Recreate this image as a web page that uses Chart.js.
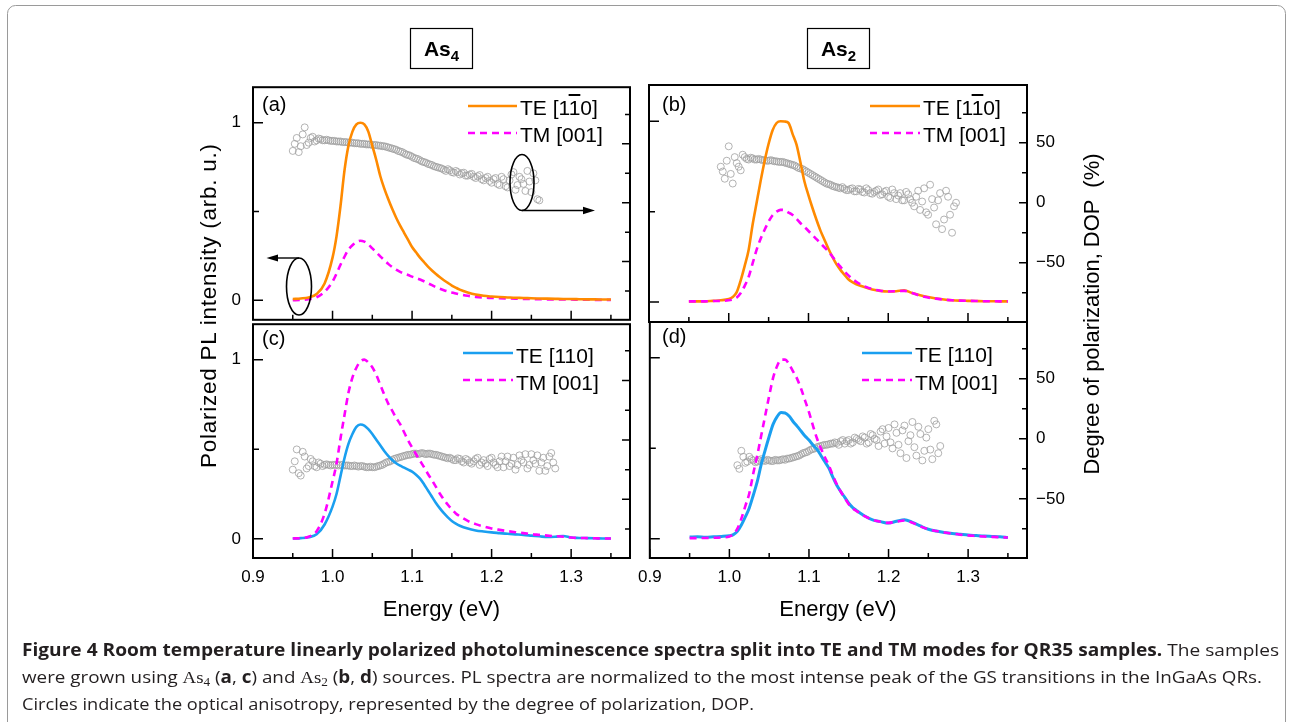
<!DOCTYPE html>
<html>
<head>
<meta charset="utf-8">
<script src="https://cdn.jsdelivr.net/npm/chart.js@4.4.1/dist/chart.umd.min.js"></script>
<style>
  body { margin: 0; background: #fff; width: 1292px; height: 722px; overflow: hidden; position: relative; font-family: "Liberation Sans", Arial, sans-serif; }
  canvas { position: absolute; }
  #overlay { position: absolute; left: 0; top: 0; }
  .leg { position: absolute; font-size: 21px; line-height: 21px; white-space: nowrap; color: #000; }
  .ov { text-decoration: overline; }
</style>
</head>
<body>
<canvas id="pa" width="457" height="277" style="left:193px;top:65px"></canvas>
<canvas id="pb" width="458" height="277" style="left:629px;top:65px"></canvas>
<canvas id="pc" width="457" height="320" style="left:193px;top:302px"></canvas>
<canvas id="pd" width="458" height="320" style="left:629px;top:302px"></canvas>

<svg id="overlay" width="1292" height="722" font-family="Liberation Sans, Arial, sans-serif">
  <rect x="7.5" y="5.5" width="1278" height="760" rx="8" fill="none" stroke="#9a9a9a" stroke-width="1"/>

  <!-- source boxes -->
  <rect x="410.5" y="28.5" width="62" height="40" fill="none" stroke="#000" stroke-width="1.2"/>
  <text x="441.5" y="56" text-anchor="middle" font-weight="bold" font-size="21">As<tspan font-size="15" dy="5">4</tspan></text>
  <rect x="807.5" y="28.5" width="62" height="40" fill="none" stroke="#000" stroke-width="1.2"/>
  <text x="838.5" y="56" text-anchor="middle" font-weight="bold" font-size="21">As<tspan font-size="15" dy="5">2</tspan></text>

  <!-- panel letters -->
  <text x="262" y="110.5" font-size="20">(a)</text>
  <text x="662" y="110.5" font-size="20">(b)</text>
  <text x="262" y="344.5" font-size="20">(c)</text>
  <text x="662" y="343" font-size="20">(d)</text>

  <!-- legend samples -->
  <line x1="468" y1="106" x2="517" y2="106" stroke="#ff8a00" stroke-width="2.6"/>
  <line x1="468" y1="133" x2="517" y2="133" stroke="#ff00ff" stroke-width="2.6" stroke-dasharray="7 5"/>
  <line x1="870" y1="106" x2="920" y2="106" stroke="#ff8a00" stroke-width="2.6"/>
  <line x1="870" y1="133" x2="920" y2="133" stroke="#ff00ff" stroke-width="2.6" stroke-dasharray="7 5"/>
  <line x1="463" y1="353" x2="513" y2="353" stroke="#1a9ff0" stroke-width="2.6"/>
  <line x1="463" y1="380" x2="513" y2="380" stroke="#ff00ff" stroke-width="2.6" stroke-dasharray="7 5"/>
  <line x1="862" y1="353" x2="912" y2="353" stroke="#1a9ff0" stroke-width="2.6"/>
  <line x1="862" y1="380" x2="912" y2="380" stroke="#ff00ff" stroke-width="2.6" stroke-dasharray="7 5"/>

  <!-- axis ownership marks in (a) -->
  <ellipse cx="522" cy="182.5" rx="12" ry="28" fill="none" stroke="#000" stroke-width="1.6"/>
  <line x1="522" y1="210.5" x2="586" y2="210.5" stroke="#000" stroke-width="1.4"/>
  <polygon points="595,210.5 583,206.8 583,214.2" fill="#000"/>
  <ellipse cx="299" cy="286.5" rx="12.5" ry="28.5" fill="none" stroke="#000" stroke-width="1.6"/>
  <line x1="299" y1="258" x2="275" y2="258" stroke="#000" stroke-width="1.4"/>
  <polygon points="266.5,258 278,254.5 278,261.5" fill="#000"/>

  <!-- axis titles -->
  <text transform="translate(216,306) rotate(-90)" text-anchor="middle" font-size="22.5" textLength="324" lengthAdjust="spacing">Polarized PL intensity (arb. u.)</text>
  <text transform="translate(1099,314) rotate(-90)" text-anchor="middle" font-size="22" style="white-space:pre">Degree of polarization, DOP  (%)</text>
  <text x="441.5" y="616" text-anchor="middle" font-size="22">Energy (eV)</text>
  <text x="838" y="616" text-anchor="middle" font-size="22">Energy (eV)</text>

  <!-- caption -->
  <g font-family="Open Sans, Noto Sans, sans-serif" font-size="17" fill="#231f20">
    <text x="22" y="656" textLength="1257" lengthAdjust="spacingAndGlyphs"><tspan font-weight="bold">Figure 4 Room temperature linearly polarized photoluminescence spectra split into TE and TM modes for QR35 samples.</tspan> The samples</text>
    <text x="22" y="683" textLength="1240" lengthAdjust="spacingAndGlyphs">were grown using <tspan font-family="Liberation Serif, serif">As</tspan><tspan font-family="Liberation Serif, serif" font-size="12" dy="3">4</tspan><tspan dy="-3"> (</tspan><tspan font-weight="bold">a</tspan>, <tspan font-weight="bold">c</tspan>) and <tspan font-family="Liberation Serif, serif">As</tspan><tspan font-family="Liberation Serif, serif" font-size="12" dy="3">2</tspan><tspan dy="-3"> (</tspan><tspan font-weight="bold">b</tspan>, <tspan font-weight="bold">d</tspan>) sources. PL spectra are normalized to the most intense peak of the GS transitions in the InGaAs QRs.</text>
    <text x="22" y="710" textLength="732" lengthAdjust="spacingAndGlyphs">Circles indicate the optical anisotropy, represented by the degree of polarization, DOP.</text>
  </g>
</svg>

<div class="leg" style="left:520px;top:96.5px">TE [1<span class="ov">1</span>0]</div>
<div class="leg" style="left:520px;top:124px">TM [001]</div>
<div class="leg" style="left:923px;top:96.5px">TE [1<span class="ov">1</span>0]</div>
<div class="leg" style="left:923px;top:124px">TM [001]</div>
<div class="leg" style="left:516px;top:345px">TE [110]</div>
<div class="leg" style="left:516px;top:371.5px">TM [001]</div>
<div class="leg" style="left:915px;top:344px">TE [110]</div>
<div class="leg" style="left:915px;top:371.5px">TM [001]</div>

<script>
// Energiegitter der PL-Spektren (eV)
const energy = [0.95, 0.96, 0.97, 0.98, 0.99,
  1.0, 1.005, 1.01, 1.015, 1.02, 1.025, 1.03, 1.035, 1.04, 1.045, 1.05, 1.055, 1.06, 1.065, 1.07, 1.075,
  1.08, 1.085, 1.09, 1.095, 1.1, 1.105, 1.11, 1.115, 1.12, 1.125, 1.13, 1.135, 1.14, 1.145, 1.15, 1.155, 1.16,
  1.17, 1.18, 1.19, 1.2, 1.21, 1.22, 1.23, 1.24, 1.25, 1.26, 1.27, 1.28, 1.29, 1.3, 1.31, 1.32, 1.33, 1.34, 1.35];

// PL-Intensität (normiert), Panels a-d
const teA = [0.007, 0.010, 0.016, 0.035, 0.095,
  0.24, 0.36, 0.53, 0.73, 0.87, 0.95, 0.99, 1.0, 0.99, 0.95, 0.87, 0.79, 0.70, 0.63, 0.57, 0.515,
  0.465, 0.42, 0.38, 0.34, 0.30, 0.27, 0.24, 0.215, 0.19, 0.168, 0.148, 0.13, 0.113, 0.098, 0.083, 0.071, 0.060,
  0.044, 0.032, 0.025, 0.021, 0.018, 0.016, 0.014, 0.013, 0.011, 0.010, 0.009, 0.008, 0.007, 0.007, 0.006, 0.005, 0.005, 0.004, 0.004];
const tmA = [0.0, 0.002, 0.006, 0.017, 0.048,
  0.105, 0.15, 0.20, 0.245, 0.285, 0.31, 0.327, 0.335, 0.33, 0.315, 0.292, 0.27, 0.247, 0.226, 0.205, 0.187,
  0.172, 0.16, 0.15, 0.142, 0.133, 0.125, 0.117, 0.107, 0.096, 0.085, 0.074, 0.065, 0.057, 0.05, 0.044, 0.038, 0.033,
  0.025, 0.019, 0.015, 0.013, 0.011, 0.010, 0.009, 0.008, 0.007, 0.006, 0.005, 0.005, 0.004, 0.004, 0.003, 0.003, 0.002, 0.002, 0.002];
const teB = [0.004, 0.004, 0.004, 0.007, 0.010,
  0.017, 0.028, 0.055, 0.12, 0.20, 0.29, 0.43, 0.55, 0.67, 0.78, 0.875, 0.95, 0.99, 1.0, 0.998, 0.99,
  0.93, 0.87, 0.77, 0.665, 0.59, 0.52, 0.455, 0.395, 0.345, 0.295, 0.25, 0.21, 0.178, 0.152, 0.126, 0.11, 0.099,
  0.083, 0.07, 0.062, 0.059, 0.06, 0.065, 0.05, 0.038, 0.028, 0.02, 0.014, 0.01, 0.008, 0.007, 0.006, 0.005, 0.005, 0.004, 0.004];
const tmB = [0.004, 0.004, 0.004, 0.006, 0.007,
  0.010, 0.015, 0.025, 0.05, 0.09, 0.14, 0.215, 0.29, 0.35, 0.40, 0.445, 0.48, 0.50, 0.51, 0.508, 0.495,
  0.482, 0.46, 0.436, 0.415, 0.393, 0.37, 0.348, 0.325, 0.303, 0.28, 0.252, 0.223, 0.196, 0.17, 0.148, 0.128, 0.112,
  0.088, 0.072, 0.063, 0.059, 0.06, 0.062, 0.05, 0.035, 0.025, 0.019, 0.014, 0.01, 0.008, 0.007, 0.006, 0.005, 0.005, 0.004, 0.004];
const teC = [0.002, 0.004, 0.009, 0.025, 0.08,
  0.18, 0.25, 0.35, 0.45, 0.53, 0.585, 0.625, 0.638, 0.632, 0.612, 0.585, 0.553, 0.522, 0.49, 0.463, 0.44,
  0.422, 0.408, 0.397, 0.386, 0.375, 0.358, 0.336, 0.305, 0.27, 0.235, 0.2, 0.17, 0.143, 0.12, 0.1, 0.085, 0.073,
  0.057, 0.047, 0.041, 0.036, 0.032, 0.028, 0.025, 0.022, 0.018, 0.014, 0.01, 0.012, 0.016, 0.007, 0.005, 0.004, 0.003, 0.002, 0.002];
const tmC = [0.002, 0.004, 0.012, 0.042, 0.14,
  0.32, 0.42, 0.56, 0.69, 0.815, 0.90, 0.955, 0.99, 1.0, 0.985, 0.958, 0.915, 0.86, 0.805, 0.755, 0.715,
  0.675, 0.64, 0.595, 0.55, 0.51, 0.472, 0.436, 0.40, 0.362, 0.327, 0.29, 0.252, 0.22, 0.19, 0.164, 0.142, 0.126,
  0.1, 0.082, 0.069, 0.058, 0.05, 0.043, 0.037, 0.032, 0.026, 0.022, 0.018, 0.015, 0.012, 0.007, 0.005, 0.004, 0.003, 0.002, 0.002];
const teD = [0.009, 0.01, 0.008, 0.01, 0.012,
  0.016, 0.022, 0.04, 0.075, 0.12, 0.17, 0.24, 0.315, 0.41, 0.49, 0.565, 0.633, 0.675, 0.697, 0.695, 0.678,
  0.648, 0.622, 0.595, 0.568, 0.545, 0.518, 0.494, 0.46, 0.425, 0.39, 0.34, 0.295, 0.26, 0.228, 0.196, 0.172, 0.155,
  0.125, 0.104, 0.094, 0.086, 0.096, 0.105, 0.09, 0.07, 0.052, 0.042, 0.034, 0.028, 0.024, 0.02, 0.017, 0.014, 0.012, 0.01, 0.006];
const tmD = [0.003, 0.003, 0.004, 0.005, 0.007,
  0.012, 0.025, 0.055, 0.11, 0.18, 0.25, 0.36, 0.46, 0.57, 0.68, 0.79, 0.89, 0.955, 0.99, 0.99, 0.965,
  0.925, 0.885, 0.83, 0.765, 0.70, 0.625, 0.555, 0.5, 0.45, 0.405, 0.35, 0.3, 0.26, 0.225, 0.19, 0.168, 0.152,
  0.124, 0.104, 0.093, 0.087, 0.094, 0.1, 0.088, 0.068, 0.052, 0.042, 0.034, 0.028, 0.022, 0.018, 0.015, 0.012, 0.01, 0.008, 0.006];

// DOP (%) – Energien und Werte je Panel (zwei versetzte Messreihen)
const dopEnergyA = [0.95, 0.955, 0.96, 0.965, 0.97, 0.975, 0.98, 0.985, 0.99, 0.995,
  1.0, 1.005, 1.01, 1.015, 1.02, 1.025, 1.03, 1.035, 1.04, 1.045,
  1.05, 1.055, 1.06, 1.065, 1.07, 1.075, 1.08, 1.085, 1.09, 1.095,
  1.1, 1.105, 1.11, 1.115, 1.12, 1.125, 1.13, 1.135, 1.14, 1.145,
  1.15, 1.155, 1.16, 1.165, 1.17, 1.175, 1.18, 1.185, 1.19, 1.195,
  1.2, 1.205, 1.21, 1.215, 1.22, 1.225, 1.23, 1.235, 1.24, 1.245,
  1.25, 1.255, 1.26];
const dopA = [44, 55, 48, 64, 51, 56, 53, 54, 53, 53,
  52.5, 52, 52, 51.5, 51, 51, 50.5, 50, 50, 49.5,
  49, 49, 48.5, 48, 47, 46, 45, 43.5, 42, 40.5,
  39, 37.5, 36, 34.5, 33, 32, 30.5, 29.5, 28, 28.5,
  26, 27, 24, 25.5, 23, 24.5, 21, 23.5, 19, 22,
  17, 21, 15, 20, 13, 24, 11, 22, 16, 27,
  9, 19, 2];
const dopEnergyAmid = [0.9525, 0.9575, 0.9625, 0.9675, 0.9725, 0.9775, 0.9825, 0.9875, 0.9925, 0.9975,
  1.0025, 1.0075, 1.0125, 1.0175, 1.0225, 1.0275, 1.0325, 1.0375, 1.0425, 1.0475,
  1.0525, 1.0575, 1.0625, 1.0675, 1.0725, 1.0775, 1.0825, 1.0875, 1.0925, 1.0975,
  1.1025, 1.1075, 1.1125, 1.1175, 1.1225, 1.1275, 1.1325, 1.1375, 1.1425, 1.1475,
  1.1525, 1.1575, 1.1625, 1.1675, 1.1725, 1.1775, 1.1825, 1.1875, 1.1925, 1.1975,
  1.2025, 1.2075, 1.2125, 1.2175, 1.2225, 1.2275, 1.2325, 1.2375, 1.2425, 1.2475,
  1.2525, 1.2575];
const dopAmid = [50, 43, 58, 49, 55, 52, 54.5, 53, 53.5, 52.5,
  52.5, 52, 51.5, 51.5, 51, 50.5, 50.5, 50, 49.5, 49.5,
  49, 48.5, 48, 47.5, 46.5, 45.5, 44, 43, 41, 40,
  38, 37, 35, 34, 32.5, 31, 30, 29, 27, 27.5,
  25.5, 26, 25, 23, 24, 22, 22.5, 20, 21, 18.5,
  20, 16, 22, 14, 19, 26, 15, 20, 10, 18,
  25, 3];
const dopEnergyB = [0.99, 0.995, 1.0, 1.005, 1.01, 1.015, 1.02, 1.025, 1.03, 1.035,
  1.04, 1.045, 1.05, 1.055, 1.06, 1.065, 1.07, 1.075, 1.08, 1.085,
  1.09, 1.095, 1.1, 1.105, 1.11, 1.115, 1.12, 1.125, 1.13, 1.135,
  1.14, 1.145, 1.15, 1.155, 1.16, 1.165, 1.17, 1.175, 1.18, 1.185,
  1.19, 1.195, 1.2, 1.205, 1.21, 1.215, 1.22, 1.225, 1.23, 1.235,
  1.24, 1.245, 1.25, 1.255, 1.26, 1.265, 1.27, 1.275, 1.28, 1.285];
const dopB = [30, 20, 47, 16, 33, 27, 38, 36, 37, 36,
  36, 35.5, 35, 35, 34.5, 34, 33.5, 32.5, 31.5, 30,
  28.5, 27, 25, 23, 21, 19, 17, 15.5, 14, 13,
  12, 11.5, 10.5, 12, 9.5, 11, 8.5, 10.5, 7.5, 10,
  6.5, 9, 5, 11, 3, 8, 2, 7, 0, 5,
  -6, 12, -10, 3, -18, 8, -14, 5, -25, 0];
const dopEnergyBmid = [0.9925, 0.9975, 1.0025, 1.0075, 1.0125, 1.0175, 1.0225, 1.0275, 1.0325, 1.0375,
  1.0425, 1.0475, 1.0525, 1.0575, 1.0625, 1.0675, 1.0725, 1.0775, 1.0825, 1.0875,
  1.0925, 1.0975, 1.1025, 1.1075, 1.1125, 1.1175, 1.1225, 1.1275, 1.1325, 1.1375,
  1.1425, 1.1475, 1.1525, 1.1575, 1.1625, 1.1675, 1.1725, 1.1775, 1.1825, 1.1875,
  1.1925, 1.1975, 1.2025, 1.2075, 1.2125, 1.2175, 1.2225, 1.2275, 1.2325, 1.2375,
  1.2425, 1.2475, 1.2525, 1.2575, 1.2625, 1.2675, 1.2725, 1.2775, 1.2825];
const dopBmid = [26, 35, 24, 38, 30, 40, 36.5, 37.5, 36, 36.5,
  35.5, 35, 35.5, 34.5, 34, 34, 33, 32, 31, 29,
  28, 26, 24, 22, 20, 18, 16, 15, 13.5, 12.5,
  13, 10.5, 11.5, 9.5, 11.5, 9, 12, 8, 9, 11,
  7, 10, 4, 8, 6, 2, 9, 3, -3, 10,
  1, -8, 15, -4, 2, -22, 10, -10, -3];
const dopEnergyC = [0.95, 0.955, 0.96, 0.965, 0.97, 0.975, 0.98, 0.985, 0.99, 0.995,
  1.0, 1.005, 1.01, 1.015, 1.02, 1.025, 1.03, 1.035, 1.04, 1.045,
  1.05, 1.055, 1.06, 1.065, 1.07, 1.075, 1.08, 1.085, 1.09, 1.095,
  1.1, 1.105, 1.11, 1.115, 1.12, 1.125, 1.13, 1.135, 1.14, 1.145,
  1.15, 1.155, 1.16, 1.165, 1.17, 1.175, 1.18, 1.185, 1.19, 1.195,
  1.2, 1.205, 1.21, 1.215, 1.22, 1.225, 1.23, 1.235, 1.24, 1.245,
  1.25, 1.255, 1.26, 1.265, 1.27, 1.275, 1.28];
const dopC = [-25, -8, -30, -14, -22, -18, -23, -20, -21, -21,
  -21, -21, -21, -21.5, -21.5, -22, -22, -22, -22.5, -23,
  -23, -22.5, -21.5, -20, -18.5, -17, -15.5, -14.5, -13.5, -12.5,
  -12, -11.5, -11.5, -11.5, -11.5, -12, -12.5, -13.5, -14.5, -15.5,
  -16, -17, -16, -19, -17, -20, -16, -21, -17, -22,
  -15, -21, -18, -23, -14, -20, -25, -13, -19, -24,
  -12, -20, -26, -15, -22, -11, -24];
const dopEnergyCmid = [0.9525, 0.9575, 0.9625, 0.9675, 0.9725, 0.9775, 0.9825, 0.9875, 0.9925, 0.9975,
  1.0025, 1.0075, 1.0125, 1.0175, 1.0225, 1.0275, 1.0325, 1.0375, 1.0425, 1.0475,
  1.0525, 1.0575, 1.0625, 1.0675, 1.0725, 1.0775, 1.0825, 1.0875, 1.0925, 1.0975,
  1.1025, 1.1075, 1.1125, 1.1175, 1.1225, 1.1275, 1.1325, 1.1375, 1.1425, 1.1475,
  1.1525, 1.1575, 1.1625, 1.1675, 1.1725, 1.1775, 1.1825, 1.1875, 1.1925, 1.1975,
  1.2025, 1.2075, 1.2125, 1.2175, 1.2225, 1.2275, 1.2325, 1.2375, 1.2425, 1.2475,
  1.2525, 1.2575, 1.2625, 1.2675, 1.2725, 1.2775];
const dopCmid = [-18, -28, -10, -24, -16, -22, -19, -22, -20.5, -21.5,
  -21, -21.5, -21, -21.5, -22, -21.5, -22.5, -22, -23, -22.5,
  -23, -22, -21, -19, -18, -16, -15, -14, -13, -12.5,
  -11.5, -12, -11, -12, -11.5, -12.5, -13, -14, -15, -15,
  -17, -15.5, -18, -16, -19, -18, -15, -19, -20, -16,
  -19, -23, -14, -18, -22, -15, -21, -17, -12, -21,
  -17, -13, -19, -26, -14, -19];
const dopEnergyD = [1.01, 1.015, 1.02, 1.025, 1.03, 1.035, 1.04, 1.045, 1.05, 1.055,
  1.06, 1.065, 1.07, 1.075, 1.08, 1.085, 1.09, 1.095, 1.1, 1.105,
  1.11, 1.115, 1.12, 1.125, 1.13, 1.135, 1.14, 1.145, 1.15, 1.155,
  1.16, 1.165, 1.17, 1.175, 1.18, 1.185, 1.19, 1.195, 1.2, 1.205,
  1.21, 1.215, 1.22, 1.225, 1.23, 1.235, 1.24, 1.245, 1.25, 1.255,
  1.26, 1.265];
const dopD = [-22, -10, -20, -15, -18, -19, -17, -18.5, -18, -18.5,
  -18, -17.5, -17.5, -16.5, -15.5, -14.5, -13, -11.5, -10, -8.5,
  -7, -6, -5, -4.5, -4, -3.5, -2, -4, -1, -3,
  0, -2, 1, -3, 3, -1, 6, -4, 9, -8,
  5, -12, 11, -2, 14, -14, 4, -10, 8, -17,
  12, -6];
const dopEnergyDmid = [1.0125, 1.0175, 1.0225, 1.0275, 1.0325, 1.0375, 1.0425, 1.0475, 1.0525, 1.0575,
  1.0625, 1.0675, 1.0725, 1.0775, 1.0825, 1.0875, 1.0925, 1.0975, 1.1025, 1.1075,
  1.1125, 1.1175, 1.1225, 1.1275, 1.1325, 1.1375, 1.1425, 1.1475, 1.1525, 1.1575,
  1.1625, 1.1675, 1.1725, 1.1775, 1.1825, 1.1875, 1.1925, 1.1975, 1.2025, 1.2075,
  1.2125, 1.2175, 1.2225, 1.2275, 1.2325, 1.2375, 1.2425, 1.2475, 1.2525, 1.2575,
  1.2625];
const dopDmid = [-25, -15, -19, -17, -19.5, -18, -18, -17.5, -18.5, -17.5,
  -18, -17, -16.5, -16, -15, -14, -12, -11, -9, -8,
  -6.5, -5.5, -5, -4, -3, -5, -1, -2, -4, 1,
  -1, 2, -4, 4, 0, -6, 8, 2, -3, 12,
  -5, 7, -16, 3, -7, 10, -18, 1, -9, 15,
  -12];

const FONT = '"Liberation Sans", Arial, sans-serif';
const ORANGE = '#ff8a00', MAGENTA = '#ff00ff', BLUE = '#1a9ff0', GREY = '#a0a0a0';

// Rahmen und nach innen zeigende Ticks
const framePlugin = {
  id: 'frame',
  afterDraw(chart) {
    const { ctx, chartArea: a } = chart;
    const sx = chart.scales.x, sy = chart.scales.y, sy2 = chart.scales.y2;
    ctx.save();
    ctx.strokeStyle = '#000';
    ctx.lineWidth = 1.5;
    ctx.beginPath();
    sx.ticks.forEach(t => {
      const px = sx.getPixelForValue(t.value);
      const major = Math.abs(t.value * 10 - Math.round(t.value * 10)) < 1e-6;
      ctx.moveTo(px, a.bottom);
      ctx.lineTo(px, a.bottom - (major ? 9 : 5));
    });
    sy.ticks.forEach(t => {
      const py = sy.getPixelForValue(t.value);
      const major = Math.abs(t.value - Math.round(t.value)) < 1e-6;
      ctx.moveTo(a.left, py);
      ctx.lineTo(a.left + (major ? 10 : 6), py);
    });
    sy2.ticks.forEach(t => {
      const py = sy2.getPixelForValue(t.value);
      const major = Math.round(t.value) % 50 === 0;
      ctx.moveTo(a.right, py);
      ctx.lineTo(a.right - (major ? 8 : 5), py);
    });
    ctx.stroke();
    ctx.lineWidth = 2;
    ctx.strokeRect(a.left, a.top, a.right - a.left, a.bottom - a.top);
    ctx.restore();
  }
};

function pairs(xs, ys) {
  return xs.map((e, i) => ({ x: e, y: ys[i] }));
}

function makePanel(id, o) {
  const datasets = o.lines.map(l => ({
    data: pairs(energy, l.values),
    borderColor: l.color,
    borderWidth: l.width || 2.6,
    borderDash: l.dash || [],
    pointRadius: 0,
    cubicInterpolationMode: 'monotone',
    fill: false,
    yAxisID: 'y'
  }));
  datasets.push({
    data: pairs(o.dopE, o.dop).concat(pairs(o.dopE2, o.dop2)),
    showLine: false,
    pointRadius: 3.5,
    pointBorderWidth: 0.8,
    pointBorderColor: GREY,
    pointBackgroundColor: 'rgba(0,0,0,0)',
    yAxisID: 'y2'
  });

  const tickFont = { family: FONT, size: 17 };
  return new Chart(document.getElementById(id), {
    type: 'line',
    data: { datasets },
    options: {
      responsive: false,
      animation: false,
      devicePixelRatio: 1,
      layout: { padding: { top: 20, left: 0, right: 0, bottom: 0 } },
      plugins: { legend: { display: false }, tooltip: { enabled: false } },
      scales: {
        x: {
          type: 'linear', position: 'bottom', min: 0.9, max: 1.374,
          grid: { display: false, drawTicks: false }, border: { display: false },
          ticks: {
            display: o.xLabels, stepSize: 0.05, includeBounds: false, autoSkip: false, maxRotation: 0,
            padding: 9, color: '#000', font: tickFont,
            callback: v => Math.abs(v * 10 - Math.round(v * 10)) < 1e-6 ? v.toFixed(1) : ''
          },
          afterFit: s => { s.height = o.xH; }
        },
        y: {
          type: 'linear', position: 'left', min: o.yMin, max: o.yMax,
          grid: { display: false, drawTicks: false }, border: { display: false },
          ticks: {
            display: o.yLabels, stepSize: 0.5, includeBounds: false, autoSkip: false,
            padding: 12, color: '#000', font: tickFont,
            callback: v => Math.abs(v - Math.round(v)) < 1e-6 ? String(Math.round(v)) : ''
          },
          afterFit: s => { s.width = o.yW; }
        },
        y2: {
          type: 'linear', position: 'right', min: o.dMin, max: o.dMax,
          grid: { display: false, drawTicks: false }, border: { display: false },
          ticks: {
            display: o.y2Labels, stepSize: 25, includeBounds: false, autoSkip: false,
            padding: 9, color: '#000', font: tickFont,
            callback: v => Math.round(v) % 50 === 0 ? (v < 0 ? '\u2212' + Math.abs(v) : String(v)) : ''
          },
          afterFit: s => { s.width = o.y2W; }
        }
      }
    },
    plugins: [framePlugin]
  });
}

const dashTM = [7, 5];
makePanel('pa', {
  lines: [{ values: teA, color: ORANGE }, { values: tmA, color: MAGENTA, dash: dashTM }],
  dopE: dopEnergyA, dop: dopA, dopE2: dopEnergyAmid, dop2: dopAmid,
  xLabels: false, yLabels: true, y2Labels: false, yW: 60, y2W: 20, xH: 20,
  yMin: -0.11, yMax: 1.2, dMin: -99.4, dMax: 98.1
});
makePanel('pb', {
  lines: [{ values: tmB, color: MAGENTA, dash: dashTM }, { values: teB, color: ORANGE }],
  dopE: dopEnergyB, dop: dopB, dopE2: dopEnergyBmid, dop2: dopBmid,
  xLabels: false, yLabels: false, y2Labels: true, yW: 20, y2W: 60, xH: 20,
  yMin: -0.11, yMax: 1.2, dMin: -99.4, dMax: 98.1
});
makePanel('pc', {
  lines: [{ values: tmC, color: MAGENTA, dash: dashTM }, { values: teC, color: BLUE }],
  dopE: dopEnergyC, dop: dopC, dopE2: dopEnergyCmid, dop2: dopCmid,
  xLabels: true, yLabels: true, y2Labels: false, yW: 60, y2W: 20, xH: 64,
  yMin: -0.107, yMax: 1.198, dMin: -99.3, dMax: 97.3
});
makePanel('pd', {
  lines: [{ values: tmD, color: MAGENTA, dash: dashTM }, { values: teD, color: BLUE, width: 3 }],
  dopE: dopEnergyD, dop: dopD, dopE2: dopEnergyDmid, dop2: dopDmid,
  xLabels: true, yLabels: false, y2Labels: true, yW: 20, y2W: 60, xH: 64,
  yMin: -0.107, yMax: 1.198, dMin: -99.3, dMax: 97.3
});
</script>
</body>
</html>
